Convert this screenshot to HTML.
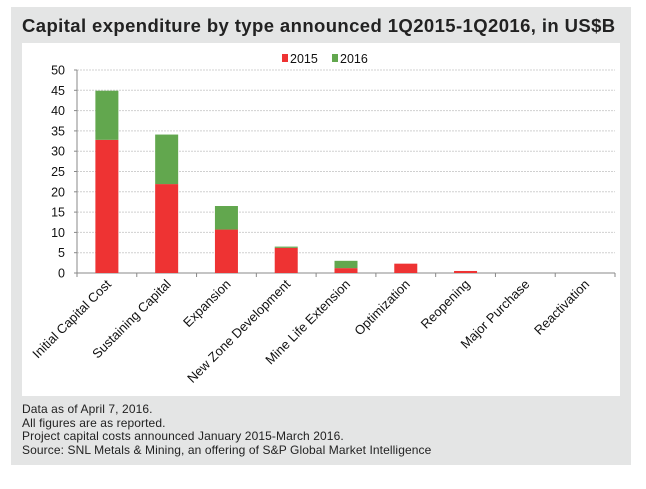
<!DOCTYPE html>
<html><head><meta charset="utf-8"><style>
body{margin:0;background:#fff;width:646px;height:489px;overflow:hidden;font-family:"Liberation Sans",sans-serif}
#panel{position:absolute;left:11px;top:7px;width:620px;height:458px;background:#e4e5e5}
#title{position:absolute;left:22px;top:15px;font-size:18.5px;font-weight:bold;color:#222;white-space:nowrap;letter-spacing:0.4px}
#white{position:absolute;left:22px;top:43px;width:598px;height:353px;background:#fff}
#foot{position:absolute;left:22px;top:403px;font-size:12px;line-height:13.5px;color:#222;letter-spacing:0.1px}
svg{position:absolute;left:0;top:0}
</style></head><body>
<div id="panel"></div>
<div id="title">Capital expenditure by type announced 1Q2015-1Q2016, in US$B</div>
<div id="white"></div>
<div id="foot">Data as of April 7, 2016.<br>All figures are as reported.<br>Project capital costs announced January 2015-March 2016.<br>Source: SNL Metals &amp; Mining, an offering of S&amp;P Global Market Intelligence</div>
<svg id="chart" width="646" height="489"></svg>
<script>
const categories=["Initial Capital Cost","Sustaining Capital","Expansion","New Zone Development","Mine Life Extension","Optimization","Reopening","Major Purchase","Reactivation"];
const v2015=[32.8,21.9,10.7,6.2,1.2,2.3,0.5,0,0];
const v2016=[12.1,12.2,5.8,0.3,1.8,0,0,0,0];
const yTicks=[0,5,10,15,20,25,30,35,40,45,50];
const NS="http://www.w3.org/2000/svg";
const svg=document.getElementById('chart');
const X0=77,X1=615,Y0=273,Y1=70,YMAX=50;
const bw=(X1-X0)/categories.length;
const y=v=>Y0-(v/YMAX)*(Y0-Y1);
const xc=i=>X0+bw*(i+0.5);
function mk(t,a){const e=document.createElementNS(NS,t);for(const k in a)e.setAttribute(k,a[k]);svg.appendChild(e);return e;}
yTicks.forEach(t=>{
  if(t>0){const g=mk('line',{x1:X0,x2:X1,y1:y(t),y2:y(t),stroke:'#d0d0d0','stroke-dasharray':'2,1'});
  
  }
  const tk=mk('line',{x1:X0-3,x2:X0,y1:y(t),y2:y(t),stroke:'#888'});
  
  
  const l=mk('text',{x:X0-12,y:y(t)+4.5,'text-anchor':'end','font-size':'12.5',fill:'#111'});
  l.textContent=t;
  
  
});
const ya=mk('line',{x1:X0,x2:X0,y1:Y1,y2:Y0,stroke:'#888'});


const xa=mk('line',{x1:X0,x2:X1,y1:Y0,y2:Y0,stroke:'#888'});


for(let i=0;i<=categories.length;i++){
  const t=mk('line',{x1:X0+bw*i,x2:X0+bw*i,y1:Y0,y2:Y0+4,stroke:'#888'});
  
  
}
const W=23;
categories.forEach((c,i)=>{
  const a=v2015[i],b=v2016[i];
  if(a>0){const r=mk('rect',{x:xc(i)-W/2,y:y(a),width:W,height:Y0-y(a),fill:'#ee3333'});
  
  }
  if(b>0){const r=mk('rect',{x:xc(i)-W/2,y:y(a+b),width:W,height:y(a)-y(a+b),fill:'#62a74e'});
  
  }
  const l=mk('text',{x:0,y:0,'text-anchor':'end','font-size':'13',fill:'#111',transform:`translate(${xc(i)+5},${Y0+12}) rotate(-45)`});
  l.textContent=c;
  
  
});
const lg=[['2015','#ee3333',282],['2016','#62a74e',332]];
lg.forEach(([t,c,x])=>{
  const s=mk('rect',{x:x,y:54,width:6,height:8,fill:c});
  
  
  const l=mk('text',{x:x+8,y:63,'font-size':'12.5',fill:'#111'});
  l.textContent=t;
  
  
});
</script>
</body></html>
